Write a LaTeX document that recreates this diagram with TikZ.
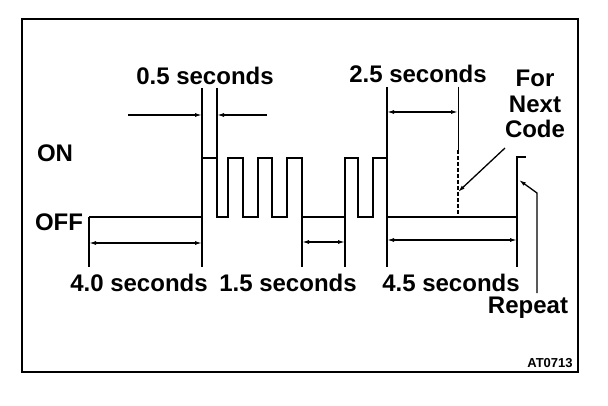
\documentclass[tikz,border=0pt]{standalone}
\usepackage{fontspec}
\setmainfont{Liberation Sans}
\usetikzlibrary{arrows.meta}

\begin{document}
\begin{tikzpicture}[
    x=1pt, y=-1pt,
    wave/.style={line width=2.4pt, line join=miter},
    extline/.style={line width=1.3pt},
    dimarrow/.style={line width=1.3pt, -{Latex[length=7pt,width=4pt]}},
    dimboth/.style={line width=1.3pt, {Latex[length=7pt,width=4pt]}-{Latex[length=7pt,width=4pt]}},
    lbl/.style={font=\fontsize{24}{25.5}\selectfont\bfseries, inner sep=0pt, anchor=base}
]
\useasboundingbox (0,0) rectangle (608,406);
\draw[line width=2.4pt] (22,19) rectangle (578,372);

% signal levels
\node[lbl] (on) at (55,162) {ON};
\node[lbl] (off) at (59,231) {OFF};

% code pulses
\draw[wave] (89,217) -- (202,217) |- (217,158) |- (228,217) |- (243,158) |- (258,217)
    |- (272,158) |- (287,217) |- (302,158) |- (345,217) |- (358,158) |- (373,217)
    |- (387,158) |- (517,217) |- (526,157);

% extension lines
\coordinate (a0) at (89,217);   \coordinate (a1) at (89,267);
\coordinate (b0) at (202,88);   \coordinate (b1) at (202,267);
\coordinate (c0) at (217,88);   \coordinate (c1) at (217,158);
\coordinate (d0) at (302,217);  \coordinate (d1) at (302,267);
\coordinate (e0) at (345,217);  \coordinate (e1) at (345,267);
\coordinate (f0) at (387,87);   \coordinate (f1) at (387,267);
\coordinate (g0) at (458,87);   \coordinate (g1) at (458,150);  \coordinate (g2) at (458,217);
\coordinate (h0) at (517,217);  \coordinate (h1) at (517,267);
\draw[extline] (a0) -- (a1);
\draw[extline] (b0) -- (b1);
\draw[extline] (c0) -- (c1);
\draw[extline] (d0) -- (d1);
\draw[extline] (e0) -- (e1);
\draw[extline] (f0) -- (f1);
\draw[line width=1pt] (g0) -- (g1);
\draw[line width=1.3pt, dash pattern=on 4pt off 2pt] (g1) -- (g2);
\draw[extline] (h0) -- (h1);

% 0.5 seconds
\coordinate (p1) at (128,115);  \coordinate (p2) at (202,115);
\coordinate (p3) at (267,115);  \coordinate (p4) at (217,115);
\draw[dimarrow] (p1) -- (p2);
\draw[dimarrow] (p3) -- (p4);
\node[lbl] (t05) at (205,85) {0.5 seconds};

% 2.5 seconds
\coordinate (q1) at (387,112);  \coordinate (q2) at (458,112);
\draw[dimboth] (q1) -- (q2);
\node[lbl] (t25) at (418,83) {2.5 seconds};

% lower dimensions
\coordinate (r1) at (89,243);   \coordinate (r2) at (202,243);
\coordinate (s1) at (302,242);  \coordinate (s2) at (345,242);
\coordinate (u1) at (387,240);  \coordinate (u2) at (517,240);
\draw[dimboth] (r1) -- (r2);
\draw[dimboth] (s1) -- (s2);
\draw[dimboth] (u1) -- (u2);
\node[lbl] (t40) at (139,291) {4.0 seconds};
\node[lbl] (t15) at (288,291) {1.5 seconds};
\node[lbl] (t45) at (451,291) {4.5 seconds};

% next code / repeat
\node[font=\fontsize{24}{25.5}\selectfont\bfseries, inner sep=0pt, align=center] (next) at (535,104) {For\\Next\\Code};
\coordinate (n1) at (505,148);  \coordinate (n2) at (458,192);
\draw[dimarrow] (n1) -- (n2);
\node[lbl] (rep) at (528,313) {Repeat};
\coordinate (m1) at (537,293);  \coordinate (m2) at (537,193);  \coordinate (m3) at (519,180);
\draw[dimarrow] (m1) -- (m2) -- (m3);

\node[font=\fontsize{13}{15}\selectfont\bfseries, inner sep=0pt, anchor=base] (fig) at (550,367) {AT0713};
\end{tikzpicture}
\end{document}
